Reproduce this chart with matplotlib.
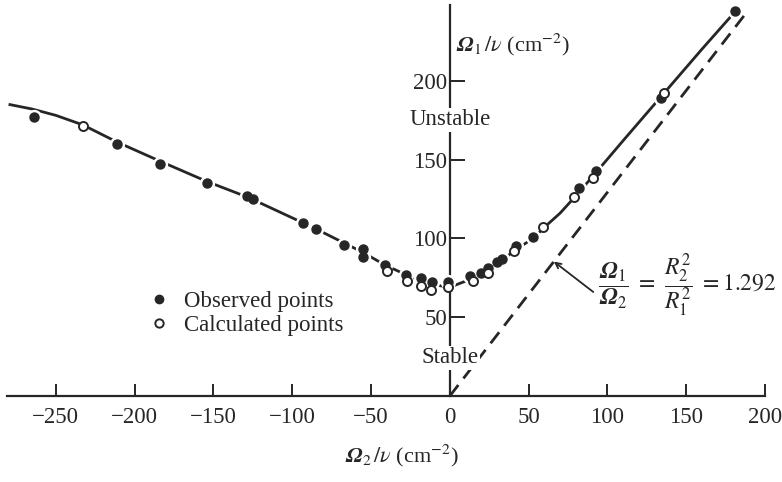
import numpy as np
import matplotlib.pyplot as plt
from matplotlib.lines import Line2D

plt.rcParams['font.family'] = ['Liberation Serif', 'DejaVu Serif']
plt.rcParams['mathtext.fontset'] = 'stix'

ink = '#262626'

# solid stability curve (Omega2/nu, Omega1/nu)
curva_x = [-280, -265, -250, -233, -211, -184, -154, -128, -100, -85, -67, -55,
           -41, -28, -18, -10, 0, 13, 24, 33, 42, 53, 60, 70, 80, 93, 110, 135, 160, 183]
curva_y = [185, 182, 178, 172, 161, 149, 136, 126, 113, 106, 97, 91,
           83, 77, 73, 70.5, 69, 74, 79, 86, 93, 100, 107, 116, 127, 142, 162, 191, 220, 246]

# observed points
obs_x = [-264, -211, -184, -154, -129, -125, -93, -85, -67, -55, -55, -41, -28, -18,
         -11, -1, 13, 20, 24, 30, 33, 42, 53, 82, 93, 134, 181]
obs_y = [177, 160, 147, 135, 127, 125, 110, 106, 96, 93, 88, 83, 77, 75,
         72, 72, 76, 78, 81, 85, 87, 95, 101, 132, 143, 189, 244]

# calculated points
calc_x = [-233, -40, -27, -18, -12, -1, 15, 24, 41, 59, 79, 91, 136]
calc_y = [171, 79, 73, 70, 67, 69, 73, 78, 92, 107, 126, 138, 192]

# Rayleigh line Omega1/Omega2 = R2^2/R1^2
ratio = 1.292
ray_x = [0, 189]
ray_y = [0, ratio * 189]

xticks = [-250, -200, -150, -100, -50, 0, 50, 100, 150, 200]
yticks = [50, 100, 150, 200]

fig = plt.figure(figsize=(7.82, 4.82), dpi=100)
ax = fig.add_axes([7 / 782, 86 / 482, 758 / 782, 391 / 482])
ax.set_xlim(-281, 200)
ax.set_ylim(0, 248)

ax.plot(curva_x, curva_y, color=ink, lw=2.0, zorder=2, solid_capstyle='butt')
ax.plot(ray_x, ray_y, color=ink, lw=2.0, dashes=(5, 3), zorder=2)

# white halo so the line breaks around the filled points
ax.plot(obs_x, obs_y, 'o', ms=10, color='white', mec='white', zorder=3)
ax.plot(obs_x, obs_y, 'o', ms=6.5, color=ink, mec=ink, zorder=4)
ax.plot(calc_x, calc_y, 'o', ms=6.5, mfc='white', mec=ink, mew=1.4, zorder=4)

ax.spines['left'].set_position(('data', 0))
ax.spines['bottom'].set_position(('data', 0))
ax.spines['right'].set_visible(False)
ax.spines['top'].set_visible(False)
for s in ['left', 'bottom']:
    ax.spines[s].set_color(ink)
    ax.spines[s].set_linewidth(1.6)

ax.set_xticks(xticks)
ax.set_xticklabels([str(v).replace('-', '\u2212') for v in xticks])
ax.set_yticks(yticks)
ax.set_yticklabels([str(v) for v in yticks])
ax.tick_params(axis='x', direction='in', length=9, width=1.4, color=ink,
               labelsize=16.5, pad=8, labelcolor=ink)
ax.tick_params(axis='y', direction='in', length=11, width=1.4, color=ink,
               labelsize=16.5, pad=2, labelcolor=ink)

ax.set_xlabel(r'$\mathbfit{\Omega}_2\,/\nu$ (cm$^{-2}$)', fontsize=16, color=ink)
ax.xaxis.set_label_coords((401 - 7) / 758, -0.12)
ax.set_ylabel(r'$\mathbfit{\Omega}_1\,/\nu$ (cm$^{-2}$)', fontsize=16, color=ink,
              rotation=0, ha='left', va='center')
ax.yaxis.set_label_coords((455 - 7) / 758, (396 - 45) / 391)

box = dict(facecolor='white', edgecolor='none', pad=1)
ax.text(0, (396 - 120) / 1.575, 'Unstable', ha='center', va='center', fontsize=16.5,
        color=ink, bbox=box, zorder=6)
ax.text(0, (396 - 358) / 1.575, 'Stable', ha='center', va='center', fontsize=16.5,
        color=ink, bbox=box, zorder=6)

ax.annotate('', xy=(66, ratio * 66), xytext=(91, 66),
            arrowprops=dict(arrowstyle='->', color=ink, lw=1.3,
                            shrinkA=0, shrinkB=0))
ax.text(94, 70, r'$\dfrac{\mathbfit{\Omega}_1}{\mathbfit{\Omega}_2}\ =\ \dfrac{R_2^2}{R_1^2}\ =1.292$',
        ha='left', va='center', fontsize=17, color=ink)

handles = [Line2D([], [], ls='none', marker='o', ms=6, color=ink),
           Line2D([], [], ls='none', marker='o', ms=6, mfc='white', mec=ink, mew=1.4)]
ax.legend(handles, ['Observed points', 'Calculated points'], loc='upper left',
          bbox_to_anchor=(135 / 758 - 0.005, (396 - 282) / 391), frameon=False,
          fontsize=16.5, handlelength=1.0, handletextpad=0.6, labelspacing=0.1,
          borderaxespad=0, labelcolor=ink)

plt.savefig('out.png', dpi=100)
